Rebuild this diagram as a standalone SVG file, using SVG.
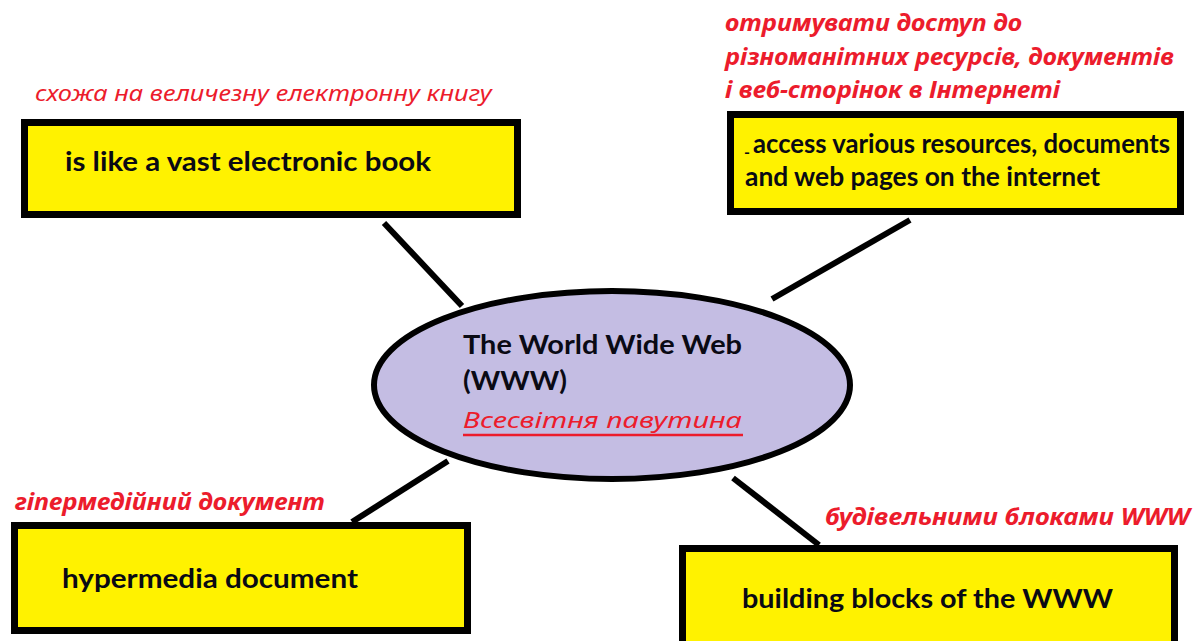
<svg xmlns="http://www.w3.org/2000/svg" width="1195" height="641" viewBox="0 0 1195 641">
<style>
.box{fill:#fff200;stroke:#000;stroke-width:7}
.lbl{font-family:Lato,"Open Sans","Liberation Sans",sans-serif;font-weight:bold;font-size:26px;fill:#0a0a14}
.cap{font-family:"Noto Sans","Open Sans","DejaVu Sans",sans-serif;font-style:italic;font-size:22px;fill:#ec1c2c}
.capb{font-weight:bold;font-size:23px}
.conn line{stroke:#000;stroke-width:6;stroke-linecap:butt}
</style>
<rect width="1195" height="641" fill="#ffffff"/>
<g id="connectors" class="conn">
<line x1="384" y1="223" x2="462" y2="306"/>
<line x1="910" y1="220" x2="772" y2="299"/>
<line x1="448" y1="461" x2="352" y2="522"/>
<line x1="733" y1="478" x2="819" y2="545"/>
</g>
<g id="center">
<ellipse cx="612" cy="385" rx="238" ry="94" fill="#c4bde3" stroke="#000" stroke-width="6"/>
<text class="lbl" x="463" y="354" font-size="25" textLength="279" lengthAdjust="spacingAndGlyphs">The World Wide Web</text>
<text class="lbl" x="463" y="390" font-size="25" textLength="104" lengthAdjust="spacingAndGlyphs">(WWW)</text>
<text class="cap" x="463" y="428" font-size="25" textLength="279" lengthAdjust="spacingAndGlyphs">Всесвітня павутина</text>
<line x1="463" y1="435" x2="743" y2="435" stroke="#ec1c2c" stroke-width="2.5"/>
</g>
<g id="node-book">
<text class="cap" x="35" y="101" textLength="457" lengthAdjust="spacingAndGlyphs">схожа на величезну електронну книгу</text>
<rect class="box" x="24.5" y="122.5" width="493" height="92"/>
<text class="lbl" x="65" y="171" textLength="366" lengthAdjust="spacingAndGlyphs">is like a vast electronic book</text>
</g>
<g id="node-access">
<text class="cap capb" x="725" y="31" textLength="297" lengthAdjust="spacingAndGlyphs">отримувати доступ до</text>
<text class="cap capb" x="725" y="65" textLength="449" lengthAdjust="spacingAndGlyphs">різноманітних ресурсів, документів</text>
<text class="cap capb" x="725" y="98" textLength="335" lengthAdjust="spacingAndGlyphs">і веб-сторінок в Інтернеті</text>
<rect class="box" x="730.5" y="114.5" width="450" height="97"/>
<text class="lbl" x="744" y="153" font-size="23"><tspan font-size="16" dy="5">-</tspan><tspan dy="-5" x="753" textLength="417" lengthAdjust="spacingAndGlyphs">access various resources, documents</tspan></text>
<text class="lbl" x="745" y="186" font-size="23" textLength="355" lengthAdjust="spacingAndGlyphs">and web pages on the internet</text>
</g>
<g id="node-hypermedia">
<text class="cap capb" x="15" y="510" textLength="310" lengthAdjust="spacingAndGlyphs">гіпермедійний документ</text>
<rect class="box" x="14.5" y="525.5" width="453" height="105"/>
<text class="lbl" x="62" y="588" textLength="296" lengthAdjust="spacingAndGlyphs">hypermedia document</text>
</g>
<g id="node-building">
<text class="cap capb" x="825" y="525" textLength="365" lengthAdjust="spacingAndGlyphs">будівельними блоками WWW</text>
<rect class="box" x="682.5" y="548.5" width="492" height="120"/>
<text class="lbl" x="742" y="608" textLength="371" lengthAdjust="spacingAndGlyphs">building blocks of the WWW</text>
</g>
</svg>
